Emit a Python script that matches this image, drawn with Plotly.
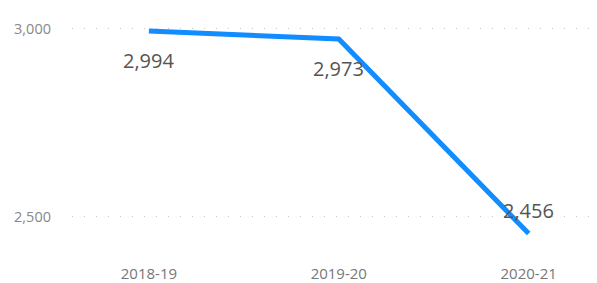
import plotly.graph_objects as go

categories = ["2018-19", "2019-20", "2020-21"]
values = [2994, 2973, 2456]
label_shift = [-29, -30, 23]
y_ticks = [2500, 3000]
y_tick_text = ["2,500", "3,000"]

fig = go.Figure()
fig.add_trace(go.Scatter(
    x=list(range(len(categories))), y=values, mode="lines",
    line=dict(color="#118DFF", width=5), hoverinfo="skip",
    cliponaxis=False,
))
for i, v in enumerate(values):
    fig.add_annotation(
        x=i, y=v, text=f"{v:,}", showarrow=False, yanchor="middle",
        yshift=label_shift[i], xanchor="center",
        font=dict(family="Open Sans", size=20, color="#555555"),
    )

# page body has an 8px default margin; margins compensate for it
fig.update_layout(
    width=597, height=283,
    margin=dict(l=64, r=8, t=2, b=53),
    paper_bgcolor="white", plot_bgcolor="white",
    showlegend=False,
    font=dict(family="Open Sans", color="#777777"),
    xaxis=dict(
        range=[-0.405, 2.36], tickmode="array", automargin=False,
        tickvals=list(range(len(categories))), ticktext=categories,
        showgrid=False, zeroline=False, showline=False,
        tickfont=dict(size=15, color="#777777"), ticks="", ticklabelstandoff=25,
    ),
    yaxis=dict(
        range=[2444, 3050], tickmode="array", tickvals=y_ticks, automargin=False,
        ticktext=y_tick_text, showgrid=True, gridcolor="#C8C8C8",
        griddash="1px,11px", gridwidth=1.2, zeroline=False, showline=False,
        tickfont=dict(size=14.5, color="#888888"), ticks="", ticklabelstandoff=20,
    ),
)
fig.write_html("out.html")
